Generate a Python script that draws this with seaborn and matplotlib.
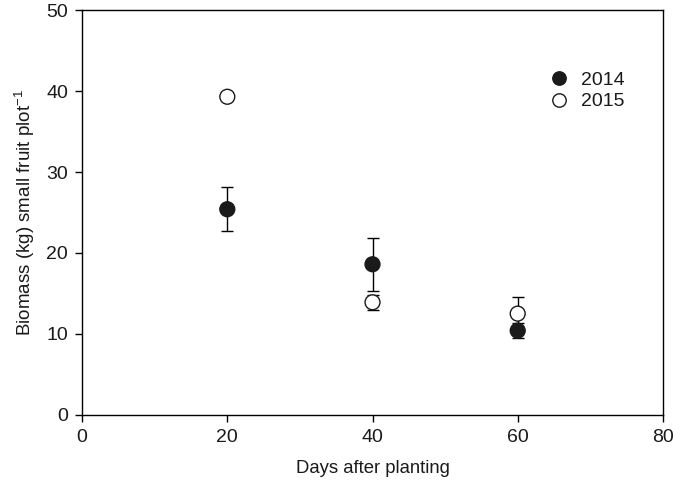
import matplotlib
matplotlib.use('Agg')
import matplotlib.pyplot as plt
import seaborn as sns
import pandas as pd
import numpy as np

# data
days = [20, 40, 60]
biomass_2014 = [25.4, 18.6, 10.4]
err_2014 = [2.7, 3.3, 0.9]
biomass_2015 = [39.3, 13.9, 12.5]
err_2015 = [0.0, 0.9, 2.1]
years = ['2014', '2015']

df = pd.DataFrame({
    'days': days * 2,
    'biomass': biomass_2014 + biomass_2015,
    'err': err_2014 + err_2015,
    'year': [years[0]] * 3 + [years[1]] * 3,
})

sns.set_style('ticks')
plt.rcParams['font.family'] = ['Liberation Sans', 'DejaVu Sans']
plt.rcParams['text.color'] = '#1a1a1a'
plt.rcParams['axes.labelcolor'] = '#1a1a1a'

fig = plt.figure(figsize=(6.73, 4.84), dpi=100)
ax = fig.add_axes([0.122, 0.143, 0.863, 0.836])

# error bars first (2015 then 2014 so the filled dots sit on top)
for yr in ['2015', '2014']:
    d = df[df['year'] == yr]
    ax.errorbar(d['days'], d['biomass'], yerr=d['err'], fmt='none',
                ecolor='black', elinewidth=1, capsize=4.5, capthick=1, zorder=2)

sns.scatterplot(data=df, x='days', y='biomass', hue='year', style='year',
                palette={'2014': '#1a1a1a', '2015': 'white'},
                markers={'2014': 'o', '2015': 'o'},
                hue_order=['2015', '2014'],
                s=115, edgecolor='#1a1a1a', linewidth=1, ax=ax, zorder=3)

handles, labels = ax.get_legend_handles_labels()
order = [labels.index('2014'), labels.index('2015')]
ax.legend([handles[i] for i in order], [labels[i] for i in order],
          loc='upper left', bbox_to_anchor=(0.775, 0.868), frameon=False,
          fontsize=14, handletextpad=0.1, labelspacing=0.2, markerscale=0.9,
          borderaxespad=0)

ax.set_xlim(0, 80)
ax.set_ylim(0, 50)
ax.set_xticks([0, 20, 40, 60, 80])
ax.set_yticks([0, 10, 20, 30, 40, 50])
ax.tick_params(direction='out', length=5, width=1, labelsize=14, color='black',
               labelcolor='#1a1a1a', top=False, right=False, pad=5)
for sp in ax.spines.values():
    sp.set_visible(True)
    sp.set_color('black')
    sp.set_linewidth(1)

ax.set_xlabel('Days after planting', fontsize=13.3, labelpad=10)
ax.set_ylabel('Biomass (kg) small fruit plot$^{\\mathregular{-1}}$', fontsize=13.5, labelpad=7)

fig.savefig('out.png', dpi=100)
